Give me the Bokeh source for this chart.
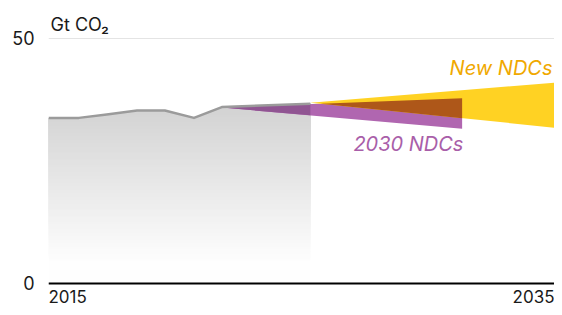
import numpy as np
from bokeh.plotting import figure
from bokeh.models import Range1d, FixedTicker, Span, Label
from bokeh.embed import file_html
from bokeh.resources import INLINE

# ---------------- data ----------------
hist_years = [2015.0, 2016.2, 2017.3, 2018.5, 2019.6, 2020.75, 2021.85, 2025.35]
hist_values = [33.8, 33.8, 34.5, 35.3, 35.3, 33.8, 36.0, 36.7]

ndc2030_x = [2021.85, 2031.35]
ndc2030_upper = [35.9, 37.8]
ndc2030_lower = [35.9, 31.6]

new_ndc_x = [2025.35, 2035.0]
new_ndc_upper = [36.9, 41.0]
new_ndc_lower = [36.9, 31.8]

y_ticks = [0, 50]
x_tick_labels = ["2015", "2035"]
x_tick_years = [2015, 2035]
unit_label = "Gt CO₂"
series_labels = ["New NDCs", "2030 NDCs"]

# ---------------- styles ----------------
FONT = "Inter"
YELLOW = "#ffd223"
PURPLE = "#b066b0"
BROWN = "#ae5719"
PURPLE_ON_GRAY = "#905592"
LINE_GRAY = "#9b9b9b"
GOLD_TEXT = "#f0a800"
PURPLE_TEXT = "#a95ea9"
TEXT = "#1a1a1a"


def clip_convex(subject, clipper):
    def area(poly):
        return sum(poly[i][0] * poly[(i + 1) % len(poly)][1] - poly[(i + 1) % len(poly)][0] * poly[i][1]
                   for i in range(len(poly)))
    if area(clipper) < 0:
        clipper = clipper[::-1]

    def inside(p, a, b):
        return (b[0] - a[0]) * (p[1] - a[1]) - (b[1] - a[1]) * (p[0] - a[0]) >= 0

    def inter(p, q, a, b):
        x1, y1 = p; x2, y2 = q; x3, y3 = a; x4, y4 = b
        den = (x1 - x2) * (y3 - y4) - (y1 - y2) * (x3 - x4)
        t = ((x1 - x3) * (y3 - y4) - (y1 - y3) * (x3 - x4)) / den
        return (x1 + t * (x2 - x1), y1 + t * (y2 - y1))

    out = list(subject)
    n = len(clipper)
    for i in range(n):
        a, b = clipper[i], clipper[(i + 1) % n]
        inp, out = out, []
        if not inp:
            break
        s = inp[-1]
        for e in inp:
            if inside(e, a, b):
                if not inside(s, a, b):
                    out.append(inter(s, e, a, b))
                out.append(e)
            elif inside(s, a, b):
                out.append(inter(s, e, a, b))
            s = e
    return out


purple_poly = [(ndc2030_x[0], ndc2030_upper[0]), (ndc2030_x[1], ndc2030_upper[1]), (ndc2030_x[1], ndc2030_lower[1])]
yellow_poly = [(new_ndc_x[0], new_ndc_upper[0]), (new_ndc_x[1], new_ndc_upper[1]), (new_ndc_x[1], new_ndc_lower[1])]
brown_poly = clip_convex(purple_poly, yellow_poly)
xe = hist_years[-1]
lo, hi = min(ndc2030_lower) - 5, max(ndc2030_upper) + 5
left_box = [(hist_years[0], lo), (xe, lo), (xe, hi), (hist_years[0], hi)]
purple_gray_poly = clip_convex(purple_poly, left_box)

# ---------------- figure ----------------
W, H = 554, 307
p = figure(width=W, height=H, output_backend="svg", toolbar_location=None,
           x_range=Range1d(2015, 2035), y_range=Range1d(-4.898, 57.755),
           min_border_left=48, min_border_right=0, min_border_top=0, min_border_bottom=0)
p.outline_line_color = None
p.background_fill_color = "white"
p.border_fill_color = "white"
p.xaxis.visible = False
p.xgrid.visible = False

p.yaxis.ticker = FixedTicker(ticks=y_ticks)
p.yaxis.axis_line_color = None
p.yaxis.major_tick_line_color = None
p.yaxis.minor_tick_line_color = None
p.yaxis.major_tick_out = 0
p.yaxis.major_tick_in = 0
p.yaxis.major_label_standoff = 14
p.yaxis.major_label_text_font = FONT
p.yaxis.major_label_text_font_size = "18px"
p.yaxis.major_label_text_color = TEXT
p.ygrid.ticker = FixedTicker(ticks=y_ticks)
p.ygrid.grid_line_color = "#e4e4e4"
p.ygrid.grid_line_width = 1

# gradient area under history (stacked bands, light at bottom, darker at top)
x_fine = np.linspace(hist_years[0], hist_years[-1], 500)
line_fine = np.interp(x_fine, hist_years, hist_values)
levels = np.linspace(0, max(hist_values), 80)
for lv in levels:
    t = np.clip((lv - 4.0) / (36.0 - 4.0), 0, 1)
    g = int(round(254 - 44 * t))
    col = "#%02x%02x%02x" % (g, g, g)
    p.varea(x=x_fine, y1=np.full_like(x_fine, lv), y2=np.maximum(line_fine, lv), fill_color=col)

# wedges
p.patch([q[0] for q in purple_poly], [q[1] for q in purple_poly], fill_color=PURPLE, line_color=None)
p.patch([q[0] for q in purple_gray_poly], [q[1] for q in purple_gray_poly], fill_color=PURPLE_ON_GRAY, line_color=None)
p.patch([q[0] for q in yellow_poly], [q[1] for q in yellow_poly], fill_color=YELLOW, line_color=None)
p.patch([q[0] for q in brown_poly], [q[1] for q in brown_poly], fill_color=BROWN, line_color=None)

# history line
p.line(hist_years, hist_values, line_color=LINE_GRAY, line_width=2.5, line_join="round")

# zero line
p.add_layout(Span(location=0, dimension="width", line_color="black", line_width=2))

# texts
p.add_layout(Label(x=2015.08, y=52.86, text=unit_label, text_font=FONT, text_font_size="18px",
                   text_color=TEXT, text_align="left", text_baseline="alphabetic"))
p.add_layout(Label(x=x_tick_years[0], y=-4.0, text=x_tick_labels[0], text_font=FONT, text_font_size="17px",
                   text_color=TEXT, text_align="left", text_baseline="bottom"))
p.add_layout(Label(x=x_tick_years[1], y=-4.0, text=x_tick_labels[1], text_font=FONT, text_font_size="17px",
                   text_color=TEXT, text_align="right", text_baseline="bottom"))
p.add_layout(Label(x=2034.92, y=44.08, text=series_labels[0], text_font=FONT, text_font_size="20px",
                   text_font_style="italic", text_color=GOLD_TEXT, text_align="right", text_baseline="middle"))
p.add_layout(Label(x=2031.40, y=28.37, text=series_labels[1], text_font=FONT, text_font_size="20px",
                   text_font_style="italic", text_color=PURPLE_TEXT, text_align="right", text_baseline="middle"))

open("out.html", "w").write(file_html(p, INLINE))
